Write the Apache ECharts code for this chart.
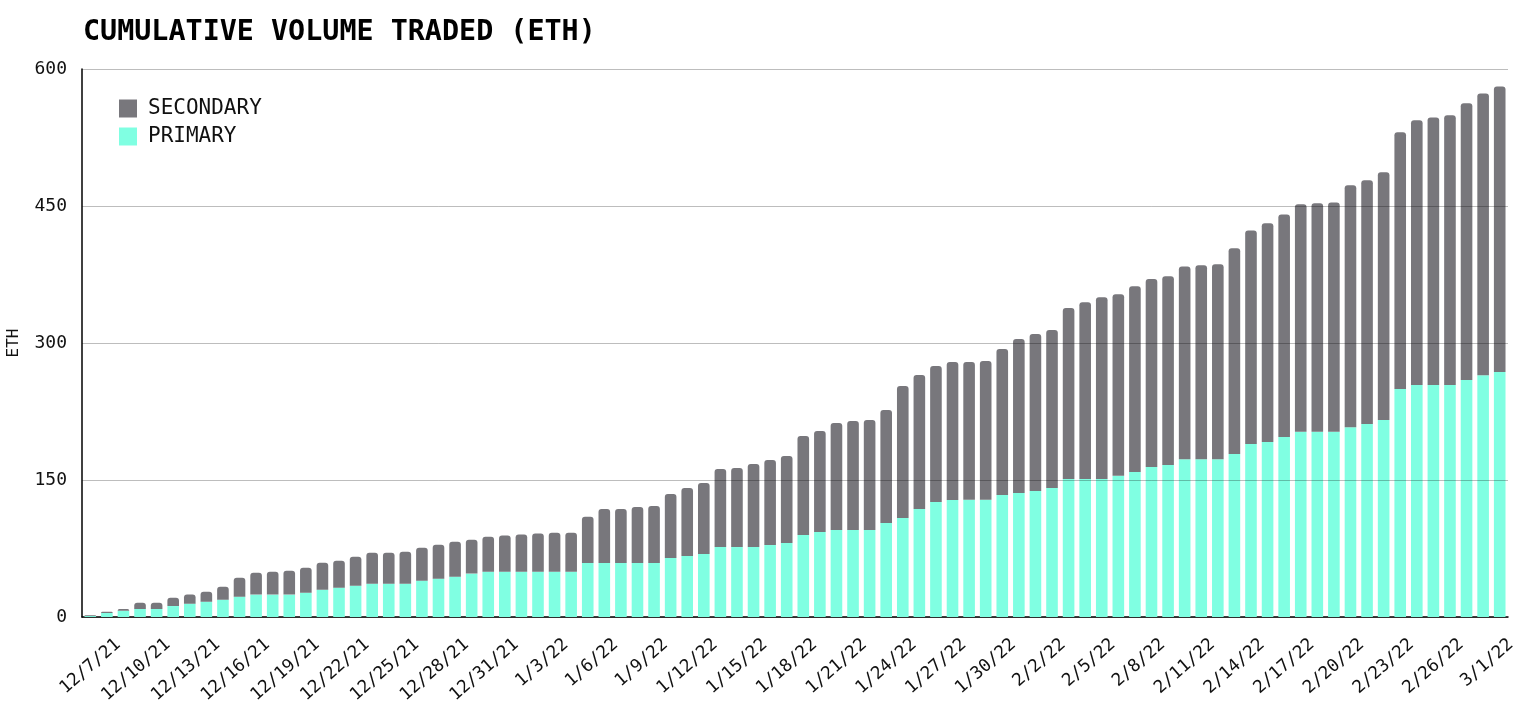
<!DOCTYPE html>
<html>
<head>
<meta charset="utf-8">
<script src="https://cdn.jsdelivr.net/npm/echarts@6/dist/echarts.min.js"></script>
<style>
html,body{margin:0;padding:0;background:#fff;}
#chart{width:1530px;height:708px;}
</style>
</head>
<body>
<div id="chart"></div>
<script>
const categories = [
'12/6/21','12/7/21','12/8/21','12/9/21','12/10/21','12/11/21','12/12/21','12/13/21','12/14/21','12/15/21','12/16/21','12/17/21','12/18/21','12/19/21','12/20/21','12/21/21','12/22/21','12/23/21','12/24/21','12/25/21','12/26/21','12/27/21','12/28/21','12/29/21','12/30/21','12/31/21',
'1/1/22','1/2/22','1/3/22','1/4/22','1/5/22','1/6/22','1/7/22','1/8/22','1/9/22','1/10/22','1/11/22','1/12/22','1/13/22','1/14/22','1/15/22','1/16/22','1/17/22','1/18/22','1/19/22','1/20/22','1/21/22','1/22/22','1/23/22','1/24/22','1/25/22','1/26/22','1/27/22','1/28/22','1/29/22','1/30/22','1/31/22',
'2/1/22','2/2/22','2/3/22','2/4/22','2/5/22','2/6/22','2/7/22','2/8/22','2/9/22','2/10/22','2/11/22','2/12/22','2/13/22','2/14/22','2/15/22','2/16/22','2/17/22','2/18/22','2/19/22','2/20/22','2/21/22','2/22/22','2/23/22','2/24/22','2/25/22','2/26/22','2/27/22','2/28/22',
'3/1/22'
];

const primary = [
1,4.4,6.9,8.8,8.8,12.0,14.6,16.8,19.0,22.3,24.5,24.5,24.5,26.6,29.9,32.1,34.3,36.5,36.5,36.5,39.8,42.0,44.2,47.5,49.6,49.6,
49.6,49.6,49.6,49.6,59.1,59.1,59.1,59.1,59.1,64.6,66.8,69.0,76.6,76.6,76.6,78.8,81.0,89.8,93.1,95.3,95.3,95.3,102.9,108.4,118.3,125.9,128.1,128.3,128.3,133.6,135.8,
138.0,141.3,151.0,151.0,151.0,154.6,158.8,164.1,166.4,172.8,172.8,172.8,178.4,189.5,191.5,197.1,202.7,202.7,202.7,207.8,211.4,215.8,249.6,254.0,254.0,254.0,259.6,264.7,
268.3
];

const secondary = [
1,1.4,1.9,6.9,6.9,9.2,9.9,10.9,14.2,20.8,24.0,25.1,26.2,27.4,29.6,29.6,31.8,33.9,33.9,35.0,36.1,37.2,38.3,37.2,38.4,39.5,
40.6,41.7,42.7,42.7,50.6,59.2,59.2,61.3,62.4,70.1,74.4,77.7,85.4,86.5,90.9,93.1,95.3,108.4,110.6,117.1,119.3,120.4,123.7,144.5,146.7,148.9,151.1,150.9,152.0,159.8,168.6,
171.9,172.9,187.2,193.6,199.1,198.8,203.3,205.9,206.6,210.9,212.2,213.4,225.3,233.7,239.6,243.6,249.1,250.3,251.1,264.8,266.7,271.1,281.1,289.8,293.0,295.4,302.9,308.6,
312.5
];

const yTicks = [0,150,300,450,600];

const FONT = 'DejaVu Sans Mono';
const chart = echarts.init(document.getElementById('chart'), null, {renderer:'canvas'});
chart.setOption({
  animation:false,
  backgroundColor:'#ffffff',
  title:{
    text:'CUMULATIVE VOLUME TRADED (ETH)',
    left:78, top:14,
    textStyle:{fontFamily:FONT, fontSize:28.4, fontWeight:'bold', color:'#000'}
  },
  legend:{
    orient:'vertical',
    left:119, top:98,
    padding:0,
    itemWidth:18, itemHeight:18, itemGap:7,
    icon:'rect',
    data:['SECONDARY','PRIMARY'],
    textStyle:{fontFamily:FONT, fontSize:21, lineHeight:18, color:'#111', padding:[0,0,0,6]}
  },
  grid:{left:82, right:22, top:69, bottom:91, containLabel:false, outerBoundsMode:'none'},
  xAxis:{
    type:'category',
    data:categories,
    boundaryGap:true,
    axisLine:{show:true, lineStyle:{color:'#000', width:1.5}},
    axisTick:{show:false},
    axisLabel:{
      rotate:41,
      interval:function(i){return i % 3 === 1;},
      fontFamily:FONT, fontSize:17.5, color:'#111', margin:35,
      padding:[0,-15,0,0]
    },
    splitLine:{show:false}
  },
  yAxis:{
    type:'value',
    min:yTicks[0], max:yTicks[yTicks.length-1], interval:150,
    z:5,
    name:'ETH',
    nameLocation:'middle',
    nameGap:60,
    nameRotate:90,
    nameTextStyle:{fontFamily:FONT, fontSize:16, color:'#111'},
    axisLine:{show:true, lineStyle:{color:'#000', width:1.5}},
    axisTick:{show:false},
    axisLabel:{fontFamily:FONT, fontSize:18, color:'#111', margin:15},
    splitLine:{show:true, lineStyle:{color:'rgba(0,0,0,0.26)', width:1}}
  },
  series:[
    {
      name:'PRIMARY', type:'bar', stack:'v', data:primary,
      barWidth:'70%',
      itemStyle:{color:'#80ffe2'}
    },
    {
      name:'SECONDARY', type:'bar', stack:'v', data:secondary,
      barWidth:'70%',
      itemStyle:{color:'#78777c', borderRadius:[3,3,0,0]}
    }
  ]
});
</script>
</body>
</html>
